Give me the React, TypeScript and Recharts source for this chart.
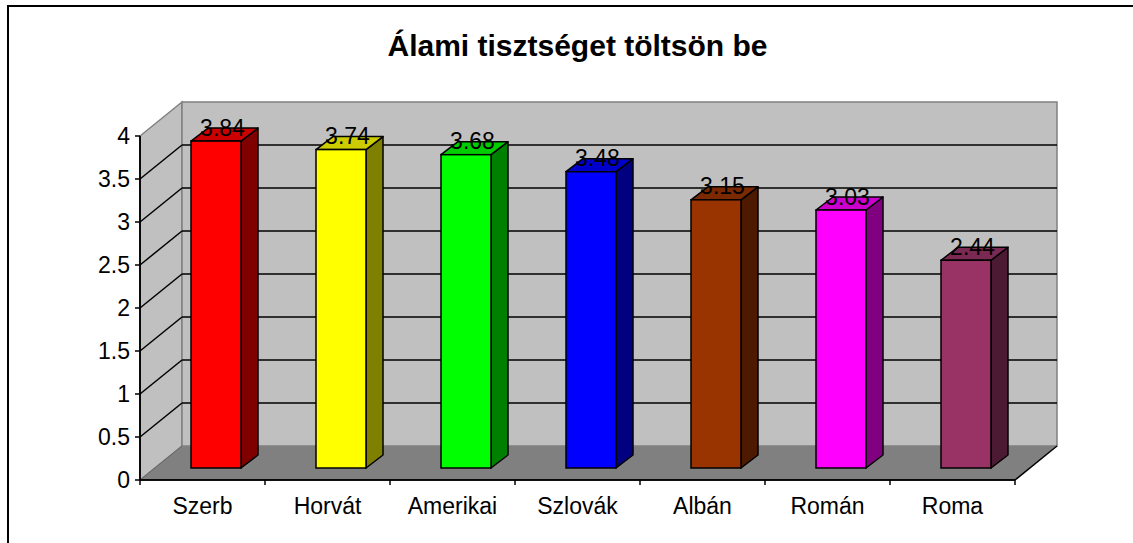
import { Bar, BarChart, ReferenceArea, XAxis, YAxis } from "recharts"

const categories = ["Szerb", "Horvát", "Amerikai", "Szlovák", "Albán", "Román", "Roma"]
const values = [3.84, 3.74, 3.68, 3.48, 3.15, 3.03, 2.44]
const yTicks = [0, 0.5, 1, 1.5, 2, 2.5, 3, 3.5, 4]
const barColors = ["#FF0000", "#FFFF00", "#00FF00", "#0000FF", "#993300", "#FF00FF", "#993366"]

const data = categories.map((name, i) => ({ name, value: values[i] }))

const FONT = "'Liberation Sans', Arial, sans-serif"
// 3d depth of the walls, and of the bars sitting in the middle of the floor
const WALL_DX = 42
const WALL_DY = 34
const BAR_SHIFT_X = 13
const BAR_SHIFT_Y = 12
const BAR_DX = 17
const BAR_DY = 13
const BAR_SCALE = 0.99

function shade(hex: string, f: number) {
  const n = parseInt(hex.slice(1), 16)
  const r = Math.round(((n >> 16) & 255) * f)
  const g = Math.round(((n >> 8) & 255) * f)
  const b = Math.round((n & 255) * f)
  return `rgb(${r},${g},${b})`
}

function Walls(props: any) {
  const { x, y, width, height } = props
  const bottom = y + height
  const right = x + width
  const yMax = yTicks[yTicks.length - 1]
  const n = categories.length
  return (
    <g>
      {/* left side wall */}
      <polygon
        points={`${x},${bottom} ${x},${y} ${x + WALL_DX},${y - WALL_DY} ${x + WALL_DX},${bottom - WALL_DY}`}
        fill="#C0C0C0"
        stroke="#808080"
        strokeWidth={1.5}
      />
      {/* back wall */}
      <rect
        x={x + WALL_DX}
        y={y - WALL_DY}
        width={width}
        height={height}
        fill="#C0C0C0"
        stroke="#808080"
        strokeWidth={1.5}
      />
      {/* floor */}
      <polygon
        points={`${x},${bottom} ${right},${bottom} ${right + WALL_DX},${bottom - WALL_DY} ${x + WALL_DX},${bottom - WALL_DY}`}
        fill="#808080"
      />
      <line x1={right} y1={bottom} x2={right + WALL_DX} y2={bottom - WALL_DY} stroke="#000" strokeWidth={1.5} />
      <line x1={x} y1={bottom} x2={x + WALL_DX} y2={bottom - WALL_DY} stroke="#666" strokeWidth={1} />
      {yTicks
        .filter((t) => t > 0 && t < yMax)
        .map((t) => {
          const yy = bottom - (t / yMax) * height
          return (
            <g key={t}>
              <line x1={x} y1={yy} x2={x + WALL_DX} y2={yy - WALL_DY} stroke="#000" strokeWidth={1.5} />
              <line x1={x + WALL_DX} y1={yy - WALL_DY} x2={right + WALL_DX} y2={yy - WALL_DY} stroke="#000" strokeWidth={1.5} />
            </g>
          )
        })}
      {/* axes */}
      <line x1={x} y1={bottom} x2={right} y2={bottom} stroke="#000" strokeWidth={1.5} />
      <line x1={x} y1={y} x2={x} y2={bottom} stroke="#000" strokeWidth={1.5} />
      {Array.from({ length: n + 1 }).map((_, i) => {
        const tx = x + (i * width) / n
        return <line key={i} x1={tx} y1={bottom} x2={tx} y2={bottom + 5} stroke="#000" strokeWidth={1.5} />
      })}
    </g>
  )
}

function Bar3D(props: any) {
  const { x, y, width, height, index, payload } = props
  const color = barColors[index % barColors.length]
  const fx = x + BAR_SHIFT_X
  const bottom = y + height - BAR_SHIFT_Y
  const top = bottom - height * BAR_SCALE
  const r = fx + width
  return (
    <g>
      <polygon
        points={`${r},${top} ${r + BAR_DX},${top - BAR_DY} ${r + BAR_DX},${bottom - BAR_DY} ${r},${bottom}`}
        fill={shade(color, 0.5)}
        stroke="#000"
        strokeWidth={1.5}
        strokeLinejoin="round"
      />
      <polygon
        points={`${fx},${top} ${fx + BAR_DX},${top - BAR_DY} ${r + BAR_DX},${top - BAR_DY} ${r},${top}`}
        fill={shade(color, 0.8)}
        stroke="#000"
        strokeWidth={1.5}
        strokeLinejoin="round"
      />
      <rect x={fx} y={top} width={width} height={bottom - top} fill={color} stroke="#000" strokeWidth={1.5} />
      <text
        x={fx + width / 2 + BAR_DX / 2 - 2}
        y={top - BAR_DY / 2 + 1}
        textAnchor="middle"
        fontFamily={FONT}
        fontSize={23}
        fill="#000"
      >
        {payload.value}
      </text>
    </g>
  )
}

export default function App() {
  return (
    <div style={{ position: "fixed", left: 0, top: 0, width: 1133, height: 543, overflow: "hidden", background: "#fff" }}>
      <div
        style={{
          position: "absolute",
          left: 7,
          top: 5,
          width: 1140,
          height: 600,
          border: "2px solid #000",
        }}
      />
      <div
        style={{
          position: "absolute",
          left: 0,
          top: 31,
          width: 1155,
          textAlign: "center",
          fontFamily: FONT,
          fontWeight: "bold",
          fontSize: 30,
          lineHeight: "30px",
          color: "#000",
        }}
      >
        Álami tisztséget töltsön be
      </div>
      <div style={{ position: "absolute", left: 0, top: 0 }}>
        <BarChart
          width={1133}
          height={543}
          data={data}
          margin={{ top: 136, right: 118, bottom: 13, left: 80 }}
          barSize={50}
        >
          <ReferenceArea y1={0} y2={4} shape={<Walls />} />
          <XAxis
            dataKey="name"
            height={50}
            axisLine={{ stroke: "#000", strokeWidth: 1.5 }}
            tickLine={false}
            tickSize={6}
            tickMargin={12}
            tick={{ fill: "#000", fontSize: 23, fontFamily: FONT }}
            interval={0}
          />
          <YAxis
            width={60}
            domain={[0, 4]}
            ticks={yTicks}
            interval={0}
            axisLine={{ stroke: "#000", strokeWidth: 1.5 }}
            tickLine={{ stroke: "#000", strokeWidth: 1.5 }}
            tickSize={5}
            tickMargin={5}
            tick={{ fill: "#000", fontSize: 23, fontFamily: FONT }}
          />
          <Bar dataKey="value" shape={<Bar3D />} isAnimationActive={false} />
        </BarChart>
      </div>
    </div>
  )
}
